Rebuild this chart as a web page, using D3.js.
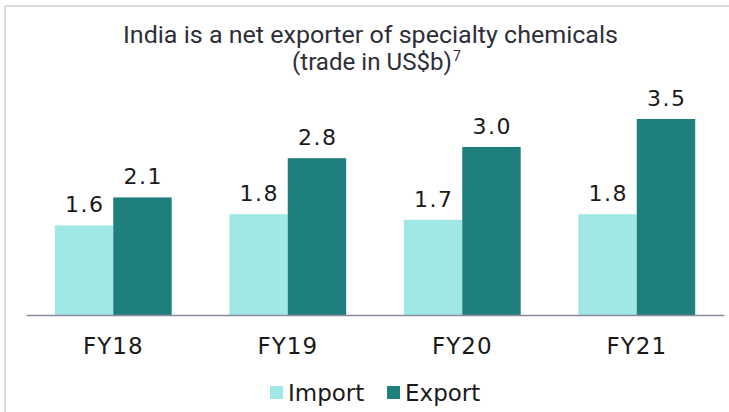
<!DOCTYPE html>
<html>
<head>
<meta charset="utf-8">
<script src="https://cdn.jsdelivr.net/npm/d3@7"></script>
<style>
  body { margin: 0; background: #fff; }
  svg { display: block; }
</style>
</head>
<body>
<svg id="svg" width="729" height="412"></svg>
<script>
// chart data
const categories = ["FY18", "FY19", "FY20", "FY21"];
const seriesNames = ["Import", "Export"];
const importValues = [1.6, 1.8, 1.7, 1.8];
const exportValues = [2.1, 2.8, 3.0, 3.5];
const valueLabels = { Import: ["1.6", "1.8", "1.7", "1.8"], Export: ["2.1", "2.8", "3.0", "3.5"] };

const colors = { Import: "#a0e8e6", Export: "#1e7f7c" };

const svg = d3.select("#svg");

// light frame (top and left edge)
svg.append("line").attr("x1", 5).attr("x2", 729).attr("y1", 6).attr("y2", 6)
  .attr("stroke", "#dadadf").attr("stroke-width", 2);
svg.append("line").attr("x1", 5).attr("x2", 5).attr("y1", 6).attr("y2", 412)
  .attr("stroke", "#dadadf").attr("stroke-width", 2);

// title
const title = svg.append("g").attr("fill", "#2e2e38")
  .style("font-family", "Roboto, 'Open Sans', sans-serif").style("font-size", "23.5px");
title.append("text")
  .attr("x", 370.5).attr("y", 43)
  .attr("text-anchor", "middle")
  .attr("textLength", 495).attr("lengthAdjust", "spacingAndGlyphs")
  .text("India is a net exporter of specialty chemicals");
title.append("text")
  .attr("x", 292).attr("y", 70)
  .attr("textLength", 160).attr("lengthAdjust", "spacingAndGlyphs")
  .style("font-size", "24.5px")
  .text("(trade in US$b)");
title.append("text")
  .attr("x", 453).attr("y", 61)
  .style("font-size", "14px")
  .text("7");

// scales
const baseY = 315;
const x = d3.scaleBand()
  .domain(categories)
  .range([26, 724])
  .paddingInner(0.33)
  .paddingOuter(0.165);

const xSub = d3.scaleBand()
  .domain(seriesNames)
  .range([0, x.bandwidth()]);

const y = d3.scaleLinear()
  .domain([0, 4])
  .range([baseY, baseY - 224]);

const rows = categories.map((c, i) => ({ category: c, Import: importValues[i], Export: exportValues[i], i: i }));

// bars
const groups = svg.selectAll("g.grp")
  .data(rows)
  .enter()
  .append("g")
  .attr("class", "grp")
  .attr("transform", d => "translate(" + x(d.category) + ",0)");

groups.selectAll("rect")
  .data(d => seriesNames.map(s => ({ key: s, value: d[s], i: d.i })))
  .enter()
  .append("rect")
  .attr("x", d => xSub(d.key))
  .attr("y", d => y(d.value))
  .attr("width", xSub.bandwidth())
  .attr("height", d => baseY - y(d.value))
  .attr("fill", d => colors[d.key]);

// value labels
groups.selectAll("text.val")
  .data(d => seriesNames.map(s => ({ key: s, value: d[s], i: d.i })))
  .enter()
  .append("text")
  .attr("class", "val")
  .attr("x", d => xSub(d.key) + xSub.bandwidth() / 2 + 0.75)
  .attr("y", d => y(d.value) - 13)
  .attr("text-anchor", "middle")
  .attr("fill", "#1a1a1a")
  .style("font-family", "'DejaVu Sans', Verdana, sans-serif")
  .style("font-size", "22px")
  .style("letter-spacing", "1.5px")
  .text(d => valueLabels[d.key][d.i]);

// x axis
const xAxis = svg.append("g")
  .attr("transform", "translate(0," + baseY + ")")
  .call(d3.axisBottom(x).tickSize(0).tickSizeOuter(0).tickPadding(23));

xAxis.select(".domain").attr("stroke", "#8c8aa3").attr("stroke-width", 1.5);
xAxis.selectAll(".tick text")
  .attr("fill", "#1a1a1a")
  .style("font-family", "'DejaVu Sans', Verdana, sans-serif")
  .style("font-size", "23px")
  .style("letter-spacing", "1px");

// legend
const legendX = { Import: 270, Export: 387 };
const legend = svg.selectAll("g.leg")
  .data(seriesNames)
  .enter()
  .append("g")
  .attr("class", "leg")
  .attr("transform", d => "translate(" + legendX[d] + ",386)");

legend.append("rect")
  .attr("width", 13).attr("height", 13)
  .attr("fill", d => colors[d]);

legend.append("text")
  .attr("x", 18).attr("y", 14.5)
  .attr("fill", "#1a1a1a")
  .style("font-family", "'DejaVu Sans', Verdana, sans-serif")
  .style("font-size", "23px")
  .text(d => d);
</script>
</body>
</html>
